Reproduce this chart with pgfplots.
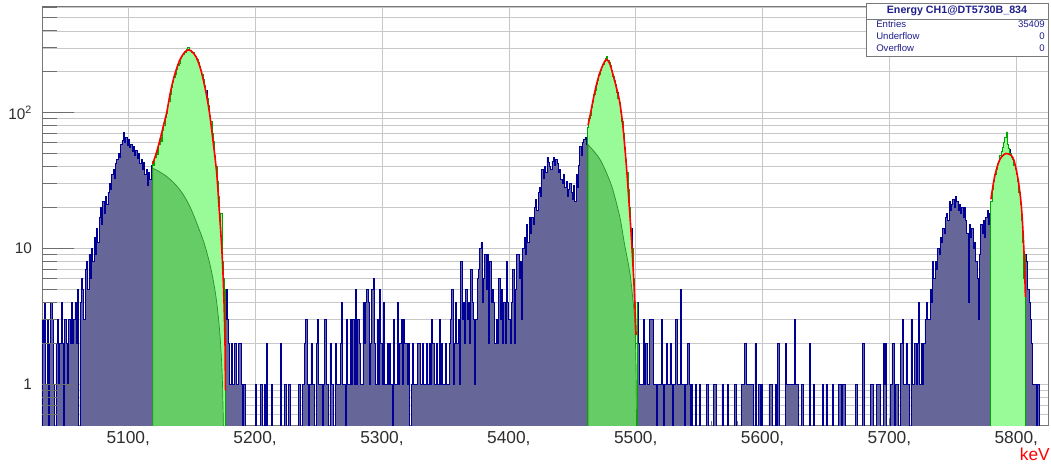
\documentclass[border=0pt]{standalone}
\usepackage{pgfplots}
\pgfplotsset{compat=1.18}
\usepackage{pgfplotstable}
\usepackage{fontspec}
\setmainfont{Liberation Sans}

\definecolor{histline}{RGB}{0,0,150}
\definecolor{histfill}{RGB}{102,102,153}
\definecolor{fitfill}{RGB}{152,251,152}
\definecolor{fitline}{RGB}{0,165,0}
\definecolor{tailfill}{RGB}{102,204,102}
\definecolor{tailline}{RGB}{40,140,40}
\definecolor{gridgray}{RGB}{200,200,200}
\definecolor{framegray}{RGB}{120,120,120}
\definecolor{tickgray}{RGB}{110,110,110}
\definecolor{labelgray}{RGB}{45,45,45}
\definecolor{statblue}{RGB}{30,30,140}

% energy spectrum, 1 keV bins: lower bin edge, counts
\pgfplotstableread[row sep=\\]{
x c\\
5032 3\\5033 2\\5034 4\\5035 1\\5036 3\\5037 0\\5038 2\\5039 4\\5040 3\\5041 1\\
5042 0\\5043 2\\5044 3\\5045 1\\5046 2\\5047 4\\5048 2\\5049 0\\5050 3\\5051 2\\
5052 1\\5053 3\\5054 2\\5055 4\\5056 2\\5057 3\\5058 4\\5059 2\\5060 5\\5061 0\\
5062 4\\5063 6\\5064 5\\5065 3\\5066 7\\5067 8\\5068 5\\5069 9\\5070 6\\5071 10\\
5072 8\\5073 12\\5074 9\\5075 14\\5076 11\\5077 17\\5078 20\\5079 15\\5080 22\\5081 18\\
5082 24\\5083 21\\5084 26\\5085 30\\5086 27\\5087 35\\5088 38\\5089 33\\5090 42\\5091 45\\
5092 50\\5093 47\\5094 58\\5095 62\\5096 71\\5097 60\\5098 66\\5099 57\\5100 63\\5101 55\\
5102 58\\5103 52\\5104 56\\5105 48\\5106 53\\5107 46\\5108 50\\5109 42\\5110 45\\5111 38\\
5112 43\\5113 35\\5114 38\\5115 29\\5116 36\\5117 32\\5118 41\\5119 44\\5120 41\\5121 47\\
5122 52\\5123 49\\5124 58\\5125 66\\5126 61\\5127 74\\5128 80\\5129 92\\5130 98\\5131 112\\
5132 121\\5133 136\\5134 152\\5135 166\\5136 181\\5137 192\\5138 207\\5139 224\\5140 232\\5141 250\\
5142 258\\5143 266\\5144 280\\5145 276\\5146 291\\5147 302\\5148 286\\5149 289\\5150 276\\5151 279\\
5152 264\\5153 258\\5154 245\\5155 236\\5156 218\\5157 204\\5158 190\\5159 176\\5160 158\\5161 146\\
5162 127\\5163 112\\5164 96\\5165 86\\5166 70\\5167 61\\5168 48\\5169 40\\5170 31\\5171 24\\
5172 16\\5173 18\\5174 8\\5175 6\\5176 3\\5177 5\\5178 3\\5179 2\\5180 1\\5181 2\\
5182 1\\5183 1\\5184 2\\5185 1\\5186 1\\5187 2\\5188 2\\5189 1\\5190 0\\5191 1\\
5192 0\\5193 0\\5194 0\\5195 0\\5196 0\\5197 0\\5198 0\\5199 0\\5200 1\\5201 0\\
5202 0\\5203 0\\5204 1\\5205 1\\5206 0\\5207 1\\5208 0\\5209 2\\5210 0\\5211 0\\
5212 0\\5213 1\\5214 0\\5215 0\\5216 0\\5217 0\\5218 0\\5219 0\\5220 2\\5221 0\\
5222 0\\5223 1\\5224 1\\5225 0\\5226 1\\5227 1\\5228 0\\5229 0\\5230 0\\5231 0\\
5232 0\\5233 0\\5234 1\\5235 1\\5236 0\\5237 1\\5238 1\\5239 2\\5240 3\\5241 1\\
5242 0\\5243 1\\5244 2\\5245 1\\5246 1\\5247 0\\5248 2\\5249 3\\5250 1\\5251 1\\
5252 1\\5253 0\\5254 1\\5255 3\\5256 1\\5257 1\\5258 0\\5259 2\\5260 1\\5261 1\\
5262 0\\5263 2\\5264 1\\5265 1\\5266 1\\5267 2\\5268 4\\5269 1\\5270 1\\5271 0\\
5272 3\\5273 1\\5274 1\\5275 3\\5276 1\\5277 3\\5278 1\\5279 5\\5280 1\\5281 3\\
5282 2\\5283 1\\5284 1\\5285 4\\5286 2\\5287 4\\5288 5\\5289 4\\5290 1\\5291 2\\
5292 5\\5293 6\\5294 2\\5295 1\\5296 3\\5297 1\\5298 5\\5299 2\\5300 1\\5301 4\\
5302 1\\5303 1\\5304 2\\5305 1\\5306 2\\5307 1\\5308 0\\5309 3\\5310 1\\5311 1\\
5312 4\\5313 1\\5314 2\\5315 3\\5316 1\\5317 3\\5318 2\\5319 2\\5320 1\\5321 2\\
5322 0\\5323 1\\5324 2\\5325 1\\5326 1\\5327 1\\5328 2\\5329 2\\5330 1\\5331 1\\
5332 2\\5333 1\\5334 1\\5335 2\\5336 1\\5337 2\\5338 1\\5339 3\\5340 2\\5341 1\\
5342 1\\5343 2\\5344 1\\5345 3\\5346 1\\5347 2\\5348 1\\5349 1\\5350 2\\5351 1\\
5352 1\\5353 2\\5354 3\\5355 5\\5356 1\\5357 2\\5358 4\\5359 2\\5360 3\\5361 1\\
5362 8\\5363 3\\5364 4\\5365 2\\5366 5\\5367 3\\5368 4\\5369 2\\5370 7\\5371 4\\
5372 3\\5373 1\\5374 3\\5375 6\\5376 7\\5377 10\\5378 11\\5379 4\\5380 6\\5381 9\\
5382 5\\5383 9\\5384 2\\5385 8\\5386 4\\5387 5\\5388 4\\5389 2\\5390 3\\5391 2\\
5392 6\\5393 3\\5394 5\\5395 2\\5396 4\\5397 2\\5398 8\\5399 4\\5400 3\\5401 2\\
5402 4\\5403 7\\5404 2\\5405 5\\5406 9\\5407 9\\5408 6\\5409 8\\5410 3\\5411 10\\
5412 12\\5413 9\\5414 15\\5415 11\\5416 17\\5417 13\\5418 17\\5419 15\\5420 20\\5421 23\\
5422 19\\5423 26\\5424 28\\5425 24\\5426 38\\5427 33\\5428 40\\5429 36\\5430 47\\5431 43\\
5432 40\\5433 38\\5434 44\\5435 47\\5436 41\\5437 45\\5438 42\\5439 36\\5440 38\\5441 32\\
5442 30\\5443 35\\5444 28\\5445 31\\5446 24\\5447 27\\5448 30\\5449 26\\5450 23\\5451 29\\
5452 22\\5453 35\\5454 28\\5455 41\\5456 56\\5457 48\\5458 60\\5459 63\\5460 66\\5461 58\\
5462 78\\5463 90\\5464 96\\5465 110\\5466 118\\5467 135\\5468 146\\5469 160\\5470 172\\5471 190\\
5472 204\\5473 214\\5474 228\\5475 240\\5476 252\\5477 258\\5478 244\\5479 236\\5480 222\\5481 205\\
5482 186\\5483 172\\5484 160\\5485 140\\5486 128\\5487 118\\5488 100\\5489 86\\5490 70\\5491 55\\
5492 45\\5493 36\\5494 27\\5495 20\\5496 14\\5497 10\\5498 6\\5499 4\\5500 2\\5501 4\\
5502 2\\5503 1\\5504 1\\5505 1\\5506 3\\5507 1\\5508 2\\5509 1\\5510 1\\5511 3\\
5512 3\\5513 3\\5514 1\\5515 1\\5516 0\\5517 1\\5518 1\\5519 1\\5520 3\\5521 1\\
5522 0\\5523 1\\5524 2\\5525 1\\5526 1\\5527 2\\5528 1\\5529 0\\5530 1\\5531 3\\
5532 3\\5533 1\\5534 1\\5535 5\\5536 1\\5537 1\\5538 0\\5539 1\\5540 1\\5541 2\\
5542 1\\5543 0\\5544 1\\5545 0\\5546 0\\5547 1\\5548 0\\5549 0\\5550 1\\5551 0\\
5552 0\\5553 0\\5554 0\\5555 0\\5556 1\\5557 0\\5558 0\\5559 0\\5560 0\\5561 1\\
5562 1\\5563 1\\5564 0\\5565 0\\5566 0\\5567 0\\5568 1\\5569 0\\5570 0\\5571 0\\
5572 1\\5573 0\\5574 0\\5575 0\\5576 0\\5577 0\\5578 1\\5579 0\\5580 0\\5581 0\\
5582 0\\5583 1\\5584 1\\5585 1\\5586 2\\5587 1\\5588 1\\5589 1\\5590 1\\5591 1\\
5592 1\\5593 0\\5594 2\\5595 0\\5596 0\\5597 1\\5598 0\\5599 1\\5600 0\\5601 0\\
5602 0\\5603 0\\5604 0\\5605 1\\5606 1\\5607 1\\5608 0\\5609 0\\5610 1\\5611 0\\
5612 2\\5613 0\\5614 0\\5615 0\\5616 0\\5617 0\\5618 2\\5619 1\\5620 1\\5621 1\\
5622 1\\5623 1\\5624 1\\5625 3\\5626 1\\5627 1\\5628 0\\5629 0\\5630 0\\5631 1\\
5632 0\\5633 0\\5634 0\\5635 0\\5636 0\\5637 2\\5638 0\\5639 0\\5640 1\\5641 0\\
5642 0\\5643 0\\5644 0\\5645 0\\5646 0\\5647 1\\5648 0\\5649 0\\5650 1\\5651 0\\
5652 0\\5653 0\\5654 0\\5655 1\\5656 0\\5657 0\\5658 0\\5659 0\\5660 1\\5661 1\\
5662 0\\5663 1\\5664 1\\5665 0\\5666 0\\5667 0\\5668 0\\5669 0\\5670 0\\5671 0\\
5672 0\\5673 1\\5674 1\\5675 0\\5676 0\\5677 0\\5678 0\\5679 2\\5680 0\\5681 0\\
5682 0\\5683 0\\5684 0\\5685 1\\5686 1\\5687 0\\5688 0\\5689 0\\5690 1\\5691 1\\
5692 1\\5693 0\\5694 0\\5695 2\\5696 1\\5697 2\\5698 0\\5699 0\\5700 0\\5701 1\\
5702 2\\5703 2\\5704 0\\5705 1\\5706 1\\5707 0\\5708 0\\5709 2\\5710 3\\5711 1\\
5712 1\\5713 2\\5714 1\\5715 1\\5716 0\\5717 3\\5718 1\\5719 1\\5720 2\\5721 1\\
5722 2\\5723 4\\5724 1\\5725 2\\5726 1\\5727 2\\5728 3\\5729 4\\5730 3\\5731 3\\
5732 5\\5733 4\\5734 8\\5735 6\\5736 8\\5737 7\\5738 10\\5739 9\\5740 12\\5741 11\\
5742 14\\5743 13\\5744 17\\5745 18\\5746 16\\5747 22\\5748 19\\5749 21\\5750 23\\5751 20\\
5752 24\\5753 22\\5754 19\\5755 21\\5756 18\\5757 20\\5758 17\\5759 20\\5760 16\\5761 13\\
5762 4\\5763 15\\5764 12\\5765 14\\5766 10\\5767 11\\5768 8\\5769 6\\5770 3\\5771 9\\
5772 15\\5773 13\\5774 16\\5775 12\\5776 17\\5777 19\\5778 15\\5779 18\\5780 22\\5781 27\\
5782 31\\5783 35\\5784 38\\5785 42\\5786 44\\5787 48\\5788 52\\5789 55\\5790 60\\5791 66\\
5792 72\\5793 58\\5794 54\\5795 50\\5796 47\\5797 45\\5798 41\\5799 38\\5800 35\\5801 31\\
5802 26\\5803 21\\5804 16\\5805 11\\5806 6\\5807 9\\5808 8\\5809 5\\5810 4\\5811 3\\
5812 2\\5813 1\\5814 1\\5815 1\\5816 0\\5817 1\\5818 0\\5819 0\\5820 0\\5821 0\\
5822 0\\5823 0\\5824 0\\5825 0\\
}\energy

\begin{document}
\begin{tikzpicture}[x=0.75pt,y=0.75pt]
\begin{axis}[
  at={(31.5pt,30pt)}, anchor=south west, scale only axis,
  width=754.5pt, height=314.25pt,
  ymode=log,
  xmin=5032, xmax=5825, ymin=0.5, ymax=610,
  axis line style={framegray, line width=0.6pt},
  xtick={5100,5200,5300,5400,5500,5600,5700,5800},
  xticklabels={{5100,},{5200,},{5300,},{5400,},{5500,},{5600,},{5700,},{5800,}},
  minor x tick num=4,
  ytick={1,10,100},
  yticklabels={1,10,10\textsuperscript{2}},
  minor ytick={0.6,0.7,0.8,0.9,2,3,4,5,6,7,8,9,20,30,40,50,60,70,80,90,200,300,400,500,600},
  xtick pos=bottom, ytick pos=left, tick align=inside,
  major tick length=5pt, minor tick length=3pt,
  xtick style={tickgray, line width=0.6pt},
  ytick style={draw=none},
  xmajorgrids, ymajorgrids, yminorgrids,
  major grid style={gridgray, line width=0.5pt},
  minor grid style={gridgray, line width=0.5pt},
  xticklabel style={font=\fontsize{13}{13}\selectfont, text=labelgray, yshift=-1pt},
  yticklabel style={font=\fontsize{11.5}{12}\selectfont, text=labelgray, xshift=-4pt},
]
% measured spectrum (empty bins drawn down to below the axis floor)
\addplot[const plot mark left, draw=histline, line width=0.6pt, fill=histfill]
  table[x=x, y expr={max(\thisrow{c},0.1)}] {\energy}
  -- (axis cs:5825,0.1) -- (axis cs:5032,0.1) -- cycle;

% bins inside the three fit windows
\addplot[const plot mark left, draw=fitline, line width=0.7pt, fill=fitfill,
  restrict x to domain=5119:5177]
  table[x=x, y=c] {\energy}
  -- (axis cs:5177,0.1) -- (axis cs:5119,0.1) -- cycle;
\addplot[const plot mark left, draw=fitline, line width=0.7pt, fill=fitfill,
  restrict x to domain=5462:5501]
  table[x=x, y=c] {\energy}
  -- (axis cs:5501,0.1) -- (axis cs:5462,0.1) -- cycle;
\addplot[const plot mark left, draw=fitline, line width=0.7pt, fill=fitfill,
  restrict x to domain=5780:5807]
  table[x=x, y=c] {\energy}
  -- (axis cs:5807,0.1) -- (axis cs:5780,0.1) -- cycle;

% low-energy tail components
\addplot[smooth, draw=tailline, line width=0.5pt, fill=tailfill] coordinates {
  (5119.3,39) (5125,36.5) (5130,34) (5135,31) (5140,27.5) (5145,23.5)
  (5150,19) (5155,14.5) (5160,10.8) (5165,7.2) (5169,4.5) (5172,2.5)
  (5174,1.2) (5175,0.5) (5175.3,0.3)
} -- (axis cs:5175.3,0.1) -- (axis cs:5119.3,0.1) -- cycle;
\addplot[smooth, draw=tailline, line width=0.5pt, fill=tailfill] coordinates {
  (5462.5,58) (5467,52) (5472,45) (5477,36) (5482,27) (5487.5,17)
  (5491,11) (5495.4,6.6) (5498,4) (5499.3,2.85) (5500.3,1.2) (5500.7,0.4)
} -- (axis cs:5500.7,0.1) -- (axis cs:5462.5,0.1) -- cycle;

% total fit functions
\addplot[smooth, draw=red, line width=1.2pt] coordinates {
  (5119.3,42) (5122,50) (5125,63) (5128,82) (5130.3,100) (5133,138)
  (5135.5,175) (5138,210) (5140.7,245) (5144,275) (5147.3,290) (5150.5,280)
  (5153.9,253) (5157,210) (5159.1,175) (5162,130) (5164.4,94) (5167,60)
  (5169.7,36) (5171.6,20) (5173.6,10.4) (5175,5.5) (5176.2,2.2) (5176.6,0.9)
};
\addplot[smooth, draw=red, line width=1.2pt] coordinates {
  (5462.5,81) (5464.5,100) (5466.5,125) (5469,160) (5471.7,196) (5474.5,228)
  (5477,246) (5479.5,230) (5482,192) (5485,150) (5487.5,118) (5490,78)
  (5492.7,40) (5494.7,22) (5496.7,11.6) (5498.7,5.3) (5500.3,2.3)
};
\addplot[smooth, draw=red, line width=1.2pt] coordinates {
  (5780,23) (5783,34) (5787,45) (5792,50) (5797.3,46.6) (5801,34)
  (5804,20.5) (5806,9.8) (5807.2,4.4)
};

% ROOT-style tick marks on the left edge
\pgfplotsinvokeforeach{0.6,0.7,0.8,0.9,2,3,4,5,6,7,8,9,20,30,40,50,60,70,80,90,200,300,400,500,600}{
  \draw[tickgray, line width=0.8pt] (axis cs:5032,#1) -- ++(11pt,0pt);
}
\pgfplotsinvokeforeach{1,10,100}{
  \draw[tickgray, line width=0.8pt] (axis cs:5032,#1) -- ++(24pt,0pt);
}
\end{axis}

% statistics box
\draw[framegray, line width=0.6pt, fill=white] (866,409) rectangle (1048,462);
\draw[framegray, line width=0.5pt] (866,446) -- (1048,446);
\node[font=\bfseries\fontsize{8}{8}\selectfont, text=statblue] at (957,454) {Energy CH1@DT5730B\_834};
\begin{scope}[every node/.style={font=\fontsize{7.2}{7.2}\selectfont, text=statblue, inner sep=0pt}]
\node[anchor=base west] at (876,437) {Entries};
\node[anchor=base west] at (876,425) {Underflow};
\node[anchor=base west] at (876,413) {Overflow};
\node[anchor=base east] at (1045,437) {35409};
\node[anchor=base east] at (1045,425) {0};
\node[anchor=base east] at (1045,413) {0};
\end{scope}

% axis unit
\node[anchor=base east, inner sep=0pt, text=red, font=\fontsize{13}{13}\selectfont] at (1050,5) {keV};

% page area
\pgfresetboundingbox
\path[use as bounding box] (0,0) rectangle (1051,465);
\end{tikzpicture}
\end{document}
